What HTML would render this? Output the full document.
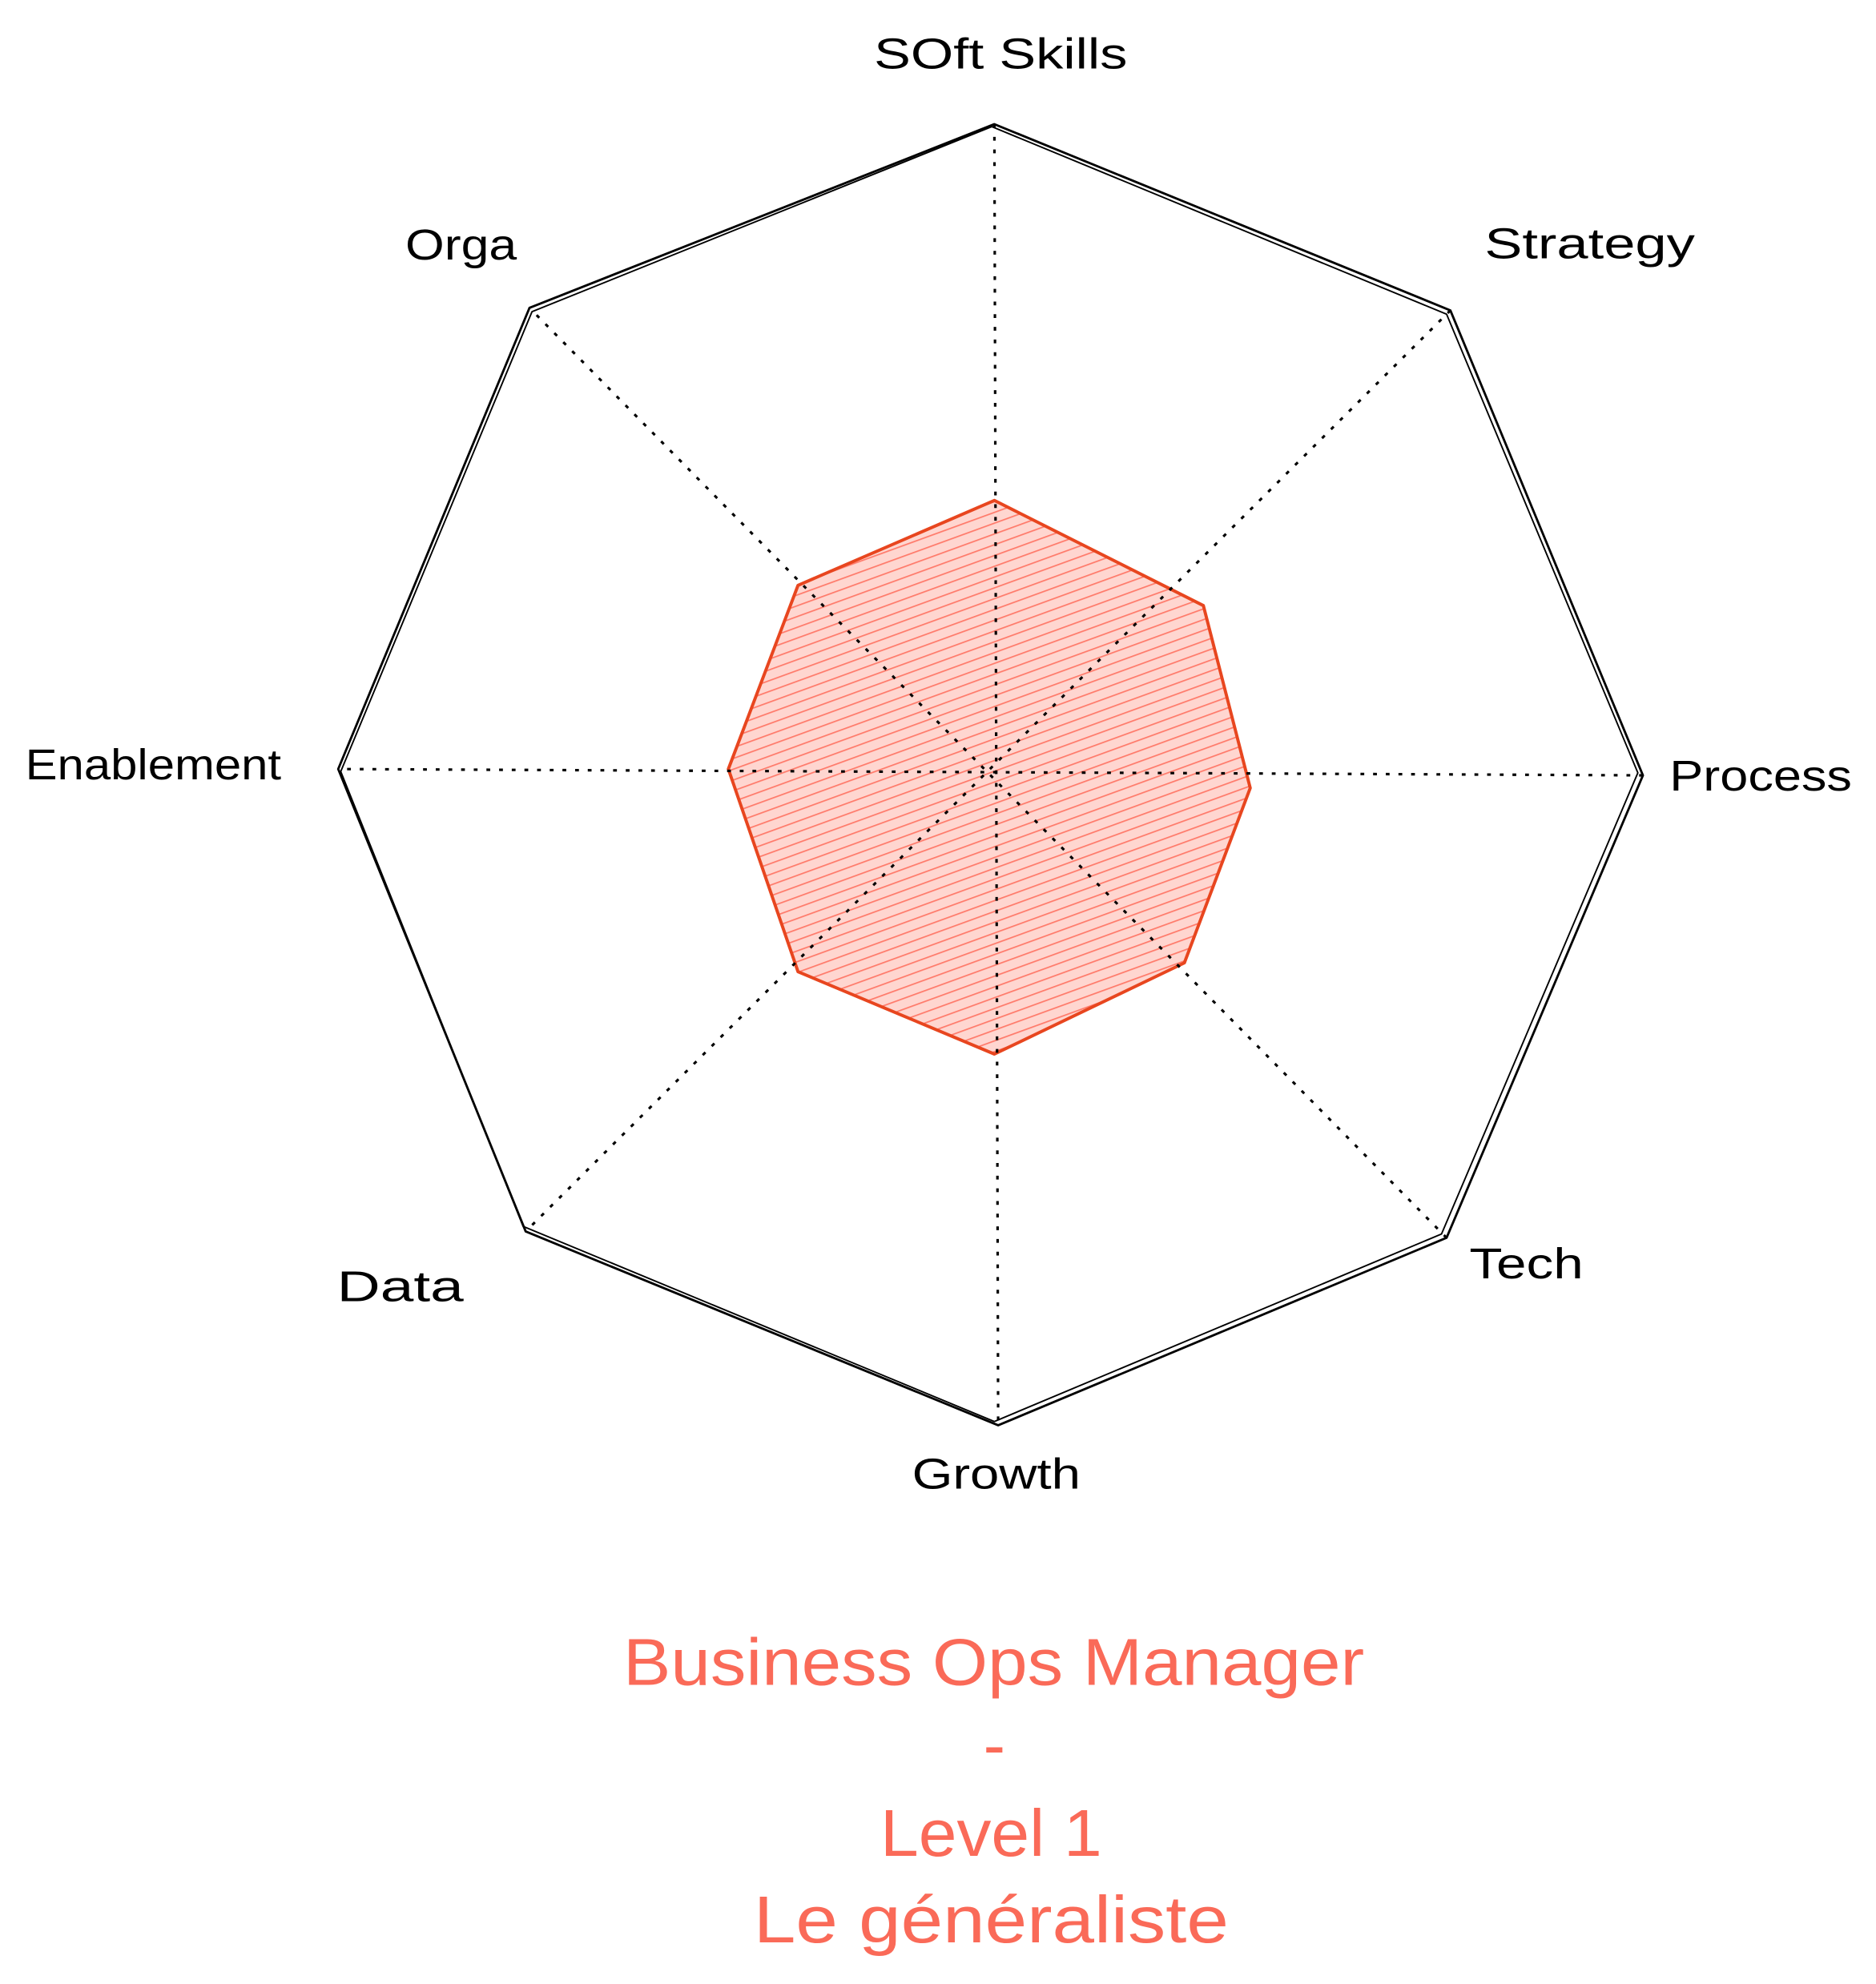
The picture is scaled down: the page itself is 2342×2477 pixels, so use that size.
<!DOCTYPE html>
<html><head><meta charset="utf-8"><style>
html,body{margin:0;padding:0;background:#fff;}
svg{display:block;}
text{font-family:"Liberation Sans",sans-serif;}
</style></head><body>
<svg width="2342" height="2477" viewBox="0 0 1481 1566" preserveAspectRatio="none" xmlns="http://www.w3.org/2000/svg">
<defs>
<pattern id="h" patternUnits="userSpaceOnUse" width="8" height="8" patternTransform="rotate(-20)">
<rect width="8" height="8" fill="#ffd6d0"/>
<line x1="0" y1="0" x2="8" y2="0" stroke="#ff7a6a" stroke-width="2.2"/>
</pattern>
</defs>
<rect width="1481" height="1566" fill="#fff"/>
<polygon points="785,395 950,478 987,622 935,760 785,832 630,767 575,607 630,462" fill="url(#h)" stroke="#e8461f" stroke-width="2.5" stroke-linejoin="round"/>
<g stroke="#000" stroke-width="2" stroke-dasharray="3,7" fill="none">
<line x1="785" y1="98" x2="788" y2="1125"/>
<line x1="1145" y1="245" x2="415" y2="972"/>
<line x1="1297" y1="612" x2="267" y2="607"/>
<line x1="1142" y1="977" x2="418" y2="243"/>
</g>
<g fill="none" stroke="#000" stroke-width="1.8" stroke-linejoin="round">
<polygon points="785,98 1145,245 1297,612 1142,977 788,1125 415,972 267,607 418,243"/>
<polygon points="783,100 1142,248 1293,610 1138,974 785,1122 413,968 269,609 420,246" stroke-width="1.2"/>
</g>
<g font-size="34" fill="#000" lengthAdjust="spacingAndGlyphs">
<text x="690" y="54" textLength="200" lengthAdjust="spacingAndGlyphs">SOft Skills</text>
<text x="1172" y="204" textLength="166" lengthAdjust="spacingAndGlyphs">Strategy</text>
<text x="1318" y="624" textLength="144" lengthAdjust="spacingAndGlyphs">Process</text>
<text x="1160" y="1009" textLength="90" lengthAdjust="spacingAndGlyphs">Tech</text>
<text x="720" y="1175" textLength="133" lengthAdjust="spacingAndGlyphs">Growth</text>
<text x="266" y="1027" textLength="100" lengthAdjust="spacingAndGlyphs">Data</text>
<text x="20" y="615" textLength="202" lengthAdjust="spacingAndGlyphs">Enablement</text>
<text x="320" y="205" textLength="88" lengthAdjust="spacingAndGlyphs">Orga</text>
</g>
<g font-size="52" fill="#fa6a58">
<text x="492" y="1330" textLength="585" lengthAdjust="spacingAndGlyphs">Business Ops Manager</text>
<text x="785" y="1395" text-anchor="middle">-</text>
<text x="695" y="1465" textLength="175" lengthAdjust="spacingAndGlyphs">Level 1</text>
<text x="595" y="1533" textLength="375" lengthAdjust="spacingAndGlyphs">Le généraliste</text>
</g>
</svg>
</body></html>
